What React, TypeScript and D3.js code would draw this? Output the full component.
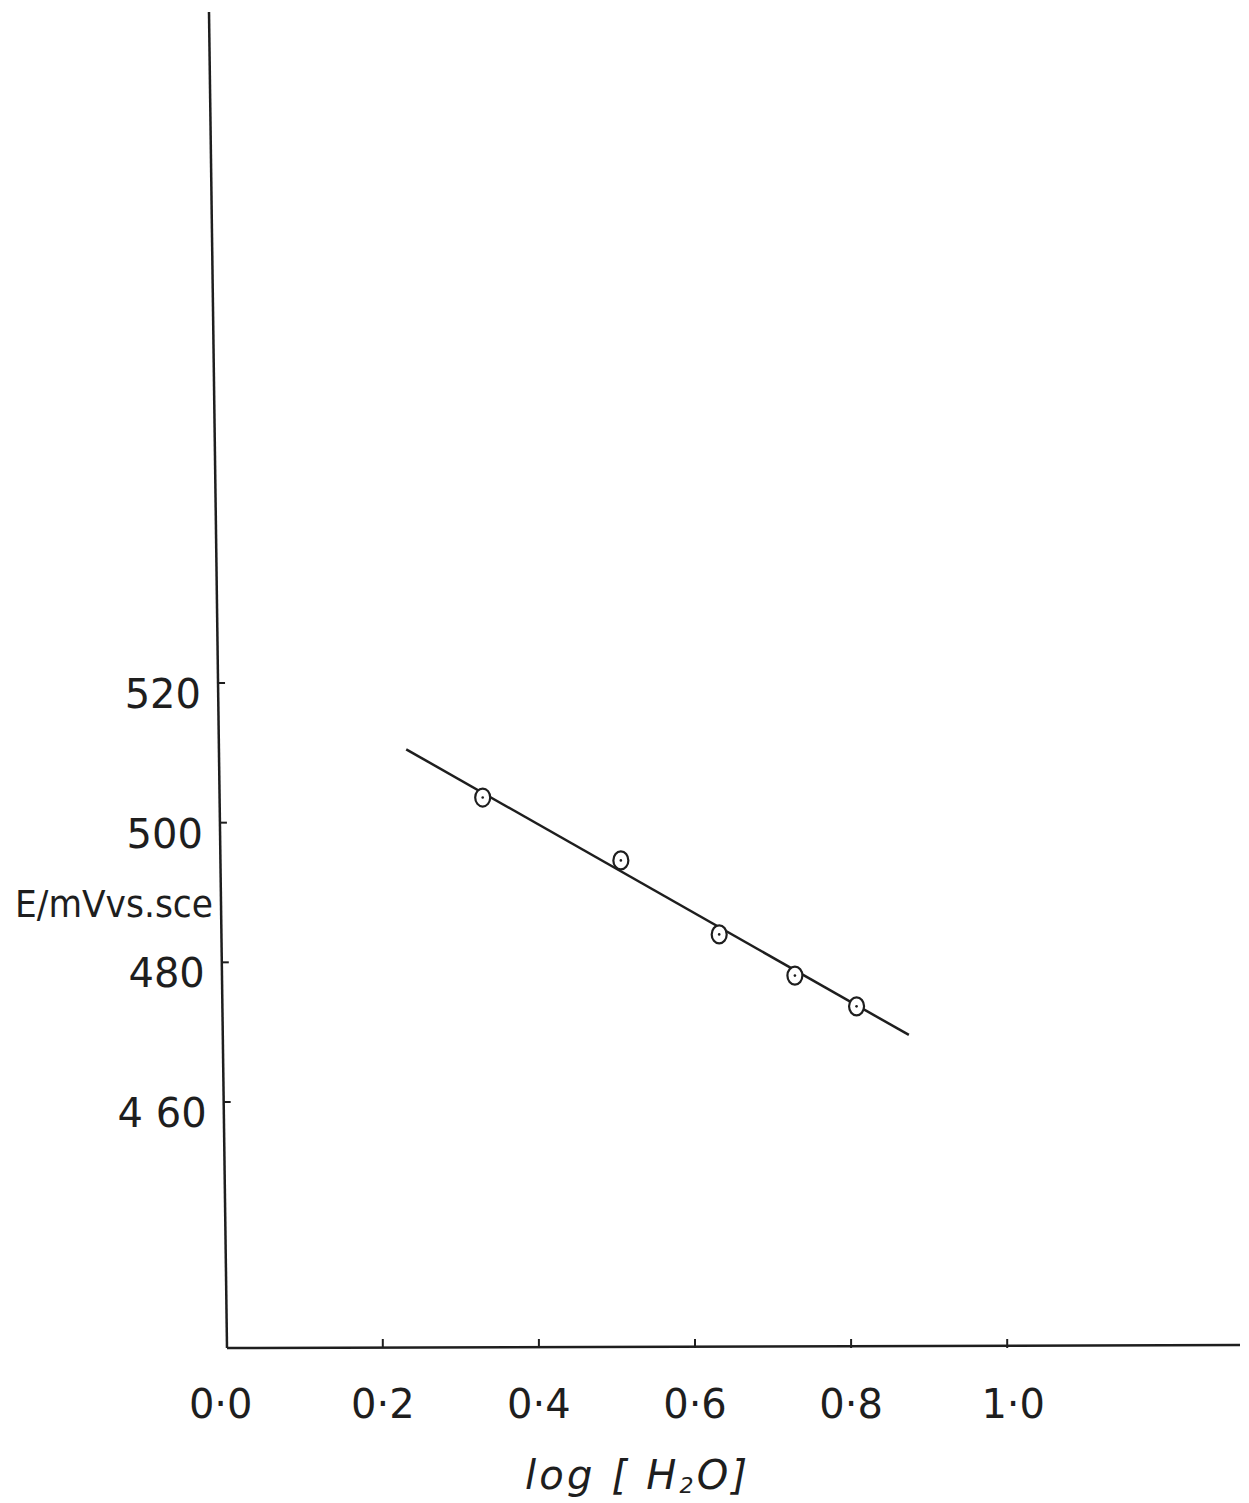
import React from 'react';
import * as d3 from 'd3';

// log[H2O] and E (mV vs. sce)
const logWater = [0.328, 0.505, 0.631, 0.728, 0.807];
const potential = [503.6, 494.6, 484.0, 478.1, 473.7];

// fitted straight line, end points
const fitX = [0.23, 0.874];
const fitY = [510.5, 469.6];

const xTicks = [0.2, 0.4, 0.6, 0.8, 1.0];
const xTickLabels = ['0·0', '0·2', '0·4', '0·6', '0·8', '1·0'];
const xLabelValues = [0.0, 0.2, 0.4, 0.6, 0.8, 1.0];
const yTicks = [520, 500, 480, 460];
const yTickLabels = ['520', '500', '480', '4 60'];

const W = 1249;
const H = 1503;
const ink = '#1e1e1e';
const font = "'DejaVu Sans', sans-serif";

export default function App() {
  const x = d3.scaleLinear().domain([0, 1]).range([226.7, 1007.2]);
  const y = d3.scaleLinear().domain([520, 460]).range([683, 1102]);

  // hand-drawn y axis leans slightly to the right going down
  const axisTop = { x: 209, y: 12 };
  const axisBottom = { x: 227, y: 1348 };
  const axisXAt = (py: number) =>
    axisTop.x + ((py - axisTop.y) / (axisBottom.y - axisTop.y)) * (axisBottom.x - axisTop.x);

  const fitLine = d3.line<number>()
    .x((_, i) => x(fitX[i]))
    .y(d => y(d));

  const xAxisY = 1348;

  return (
    <svg width={W} height={H} style={{ position: 'absolute', left: 0, top: 0, background: '#fff' }}>
      {/* axes */}
      <line x1={axisTop.x} y1={axisTop.y} x2={axisBottom.x} y2={axisBottom.y} stroke={ink} strokeWidth={2.5} />
      <line x1={axisBottom.x} y1={xAxisY} x2={1240} y2={1345} stroke={ink} strokeWidth={2.5} />

      {/* x ticks */}
      {xTicks.map(t => (
        <line key={t} x1={x(t)} x2={x(t)} y1={xAxisY} y2={xAxisY - 9} stroke={ink} strokeWidth={2} />
      ))}
      {xLabelValues.map((v, i) => (
        <text key={v} x={x(v) + (i === 0 ? -6 : i === 5 ? 6 : 0)} y={1418} textAnchor="middle"
          fontFamily={font} fontSize={40} fill={ink}>
          {xTickLabels[i]}
        </text>
      ))}

      {/* y ticks */}
      {yTicks.map((t, i) => {
        const ax = axisXAt(y(t));
        return (
          <g key={t}>
            <line x1={ax} x2={ax + 7} y1={y(t)} y2={y(t)} stroke={ink} strokeWidth={2} />
            <text x={ax - 17} y={y(t) + 25} textAnchor="end" fontFamily={font} fontSize={40} fill={ink}>
              {yTickLabels[i]}
            </text>
          </g>
        );
      })}

      {/* axis titles */}
      <text x={15} y={917} fontFamily={font} fontSize={37} fill={ink} textLength={198} lengthAdjust="spacingAndGlyphs">
        E/mVvs.sce
      </text>
      <text x={525} y={1489} fontFamily={font} fontSize={40} fontStyle="italic" fill={ink}
        textLength={222} lengthAdjust="spacing">
        log [ H<tspan fontSize={22} dy={4}>2</tspan><tspan dy={-4}>O]</tspan>
      </text>

      {/* fitted line */}
      <path d={fitLine(fitY) ?? ''} fill="none" stroke={ink} strokeWidth={2.5} />

      {/* data points */}
      {logWater.map((v, i) => (
        <g key={v}>
          <ellipse cx={x(v)} cy={y(potential[i])} rx={7.5} ry={9} fill="#fff" stroke={ink} strokeWidth={2.2} />
          <circle cx={x(v)} cy={y(potential[i])} r={1.3} fill={ink} />
        </g>
      ))}
    </svg>
  );
}
